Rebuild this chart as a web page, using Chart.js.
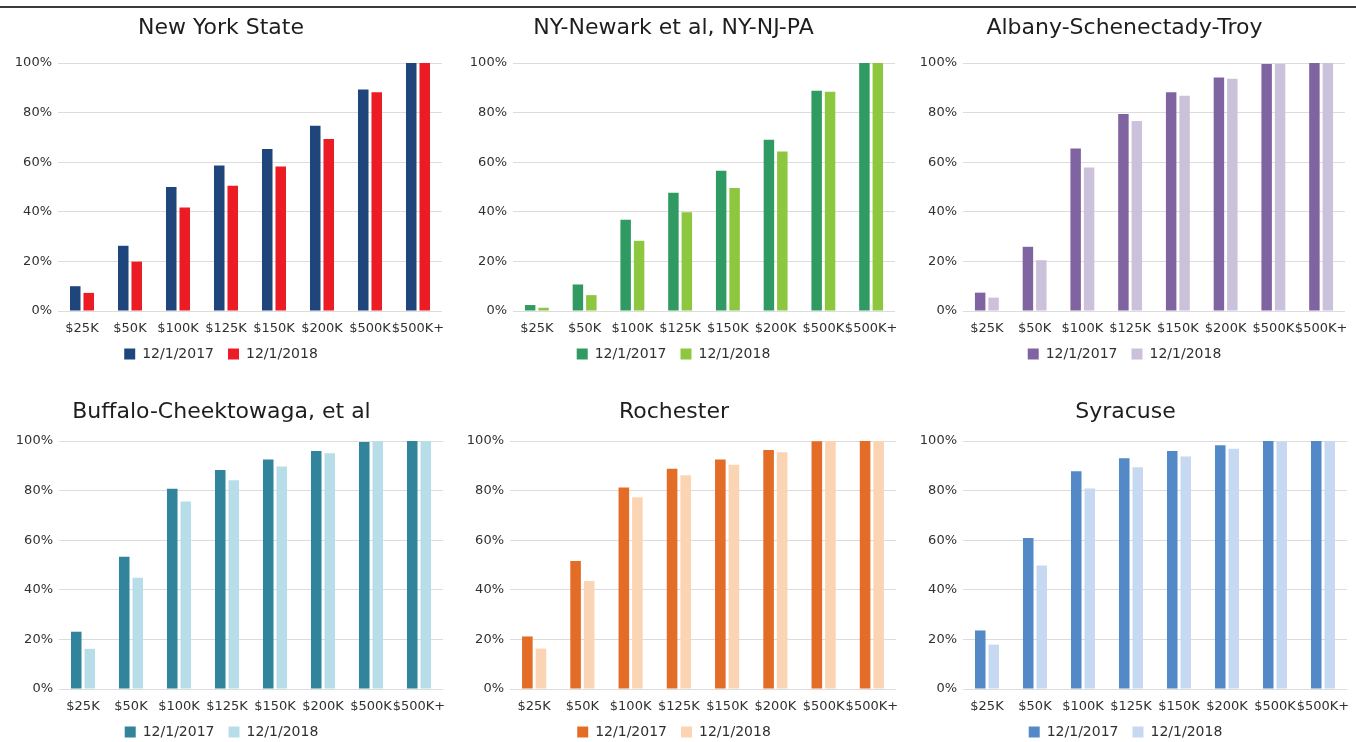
<!DOCTYPE html>
<html>
<head>
<meta charset="utf-8">
<script src="https://cdn.jsdelivr.net/npm/chart.js@4.4.1/dist/chart.umd.min.js"></script>
<style>
  html, body { margin: 0; padding: 0; background: #fff; overflow: hidden; }
  body { width: 1356px; height: 742px; position: relative; }
  .topline { position: absolute; left: 0; top: 6px; width: 1356px; height: 2px; background: #3c3c3c; }
  canvas { position: absolute; }
</style>
</head>
<body>
<div class="topline"></div>
<canvas id="nys" width="452" height="363" style="left:0px;top:9px"></canvas>
<canvas id="newark" width="452" height="363" style="left:452px;top:9px"></canvas>
<canvas id="albany" width="452" height="363" style="left:904px;top:9px"></canvas>
<canvas id="buffalo" width="452" height="380" style="left:0px;top:372px"></canvas>
<canvas id="rochester" width="452" height="380" style="left:452px;top:372px"></canvas>
<canvas id="syracuse" width="452" height="380" style="left:904px;top:372px"></canvas>
<script>
// du lieu doc tu hinh
const categories = ['$25K', '$50K', '$100K', '$125K', '$150K', '$200K', '$500K', '$500K+'];
const seriesNames = ['12/1/2017', '12/1/2018'];
const yTicks = [0, 20, 40, 60, 80, 100];

const nys2017 = [10, 26.3, 50, 58.7, 65.3, 74.7, 89.3, 100];
const nys2018 = [7.3, 19.9, 41.7, 50.5, 58.3, 69.4, 88.2, 100];

const newark2017 = [2.4, 10.7, 36.8, 47.7, 56.6, 69.1, 88.8, 100];
const newark2018 = [1.3, 6.4, 28.3, 39.8, 49.6, 64.3, 88.4, 100];

const albany2017 = [7.4, 25.9, 65.5, 79.4, 88.2, 94.2, 99.6, 100];
const albany2018 = [5.4, 20.5, 57.9, 76.6, 86.8, 93.6, 99.6, 100];

const buffalo2017 = [23.1, 53.3, 80.7, 88.3, 92.5, 96, 99.6, 100];
const buffalo2018 = [16.2, 44.9, 75.6, 84.2, 89.7, 95.1, 99.9, 100];

const rochester2017 = [21.2, 51.6, 81.3, 88.8, 92.5, 96.4, 99.9, 100];
const rochester2018 = [16.3, 43.5, 77.3, 86.2, 90.4, 95.5, 100, 100];

const syracuse2017 = [23.6, 60.9, 87.8, 93, 96, 98.3, 100, 100];
const syracuse2018 = [17.9, 49.8, 80.8, 89.4, 93.8, 96.9, 99.7, 100];

const FONT = "'DejaVu Sans', sans-serif";
Chart.defaults.font.family = FONT;
Chart.defaults.color = '#404040';

// ham tao 1 bieu do
function makePanel(id, title, d2017, d2018, colors, opt) {
  const ctx = document.getElementById(id);
  return new Chart(ctx, {
    type: 'bar',
    data: {
      labels: categories,
      datasets: [
        { label: seriesNames[0], data: d2017, backgroundColor: colors[0] },
        { label: seriesNames[1], data: d2018, backgroundColor: colors[1] }
      ]
    },
    options: {
      responsive: false,
      animation: false,
      categoryPercentage: 0.5625,
      barPercentage: 0.78,
      layout: { padding: { left: 0, right: opt.padRight, top: 0, bottom: opt.padBottom } },
      plugins: {
        title: {
          display: true,
          text: title,
          color: '#1e1e1e',
          font: { size: 22, weight: 'normal' },
          padding: { top: opt.titleTop, bottom: opt.titleBottom }
        },
        legend: {
          position: 'bottom',
          labels: { boxWidth: 11, boxHeight: 11, padding: 14, color: '#303030', font: { size: 14 } }
        },
        tooltip: { enabled: false }
      },
      scales: {
        x: {
          grid: { display: false },
          border: { display: false },
          ticks: { color: '#303030', font: { size: 13 }, padding: 2, autoSkip: false, maxRotation: 0, minRotation: 0 },
          afterFit: s => { s.height = 22; }
        },
        y: {
          min: 0,
          max: 100,
          afterBuildTicks: s => { s.ticks = yTicks.map(v => ({ value: v })); },
          grid: { color: '#dcdcdc', drawTicks: false },
          border: { display: false },
          ticks: { color: '#303030', font: { size: 13 }, padding: 6, callback: v => v + '%' },
          afterFit: s => { s.width = opt.yWidth; }
        }
      }
    }
  });
}

const row1 = { padBottom: 1, titleTop: 6, titleBottom: 21.6 };
const row2 = { padBottom: 3, titleTop: 27, titleBottom: 15.6 };

makePanel('nys', 'New York State', nys2017, nys2018, ['#1f467c', '#ec1c24'],
  Object.assign({ yWidth: 58, padRight: 10 }, row1));
makePanel('newark', 'NY-Newark et al, NY-NJ-PA', newark2017, newark2018, ['#2f9a62', '#8dc63f'],
  Object.assign({ yWidth: 61, padRight: 9 }, row1));
makePanel('albany', 'Albany-Schenectady-Troy', albany2017, albany2018, ['#8064a2', '#ccc1da'],
  Object.assign({ yWidth: 59, padRight: 11 }, row1));
makePanel('buffalo', 'Buffalo-Cheektowaga, et al', buffalo2017, buffalo2018, ['#31849b', '#b7dee8'],
  Object.assign({ yWidth: 59, padRight: 9 }, row2));
makePanel('rochester', 'Rochester', rochester2017, rochester2018, ['#e36c26', '#fbd4b4'],
  Object.assign({ yWidth: 58, padRight: 8 }, row2));
makePanel('syracuse', 'Syracuse', syracuse2017, syracuse2018, ['#5489c8', '#c6d9f1'],
  Object.assign({ yWidth: 59, padRight: 9 }, row2));
</script>
</body>
</html>
